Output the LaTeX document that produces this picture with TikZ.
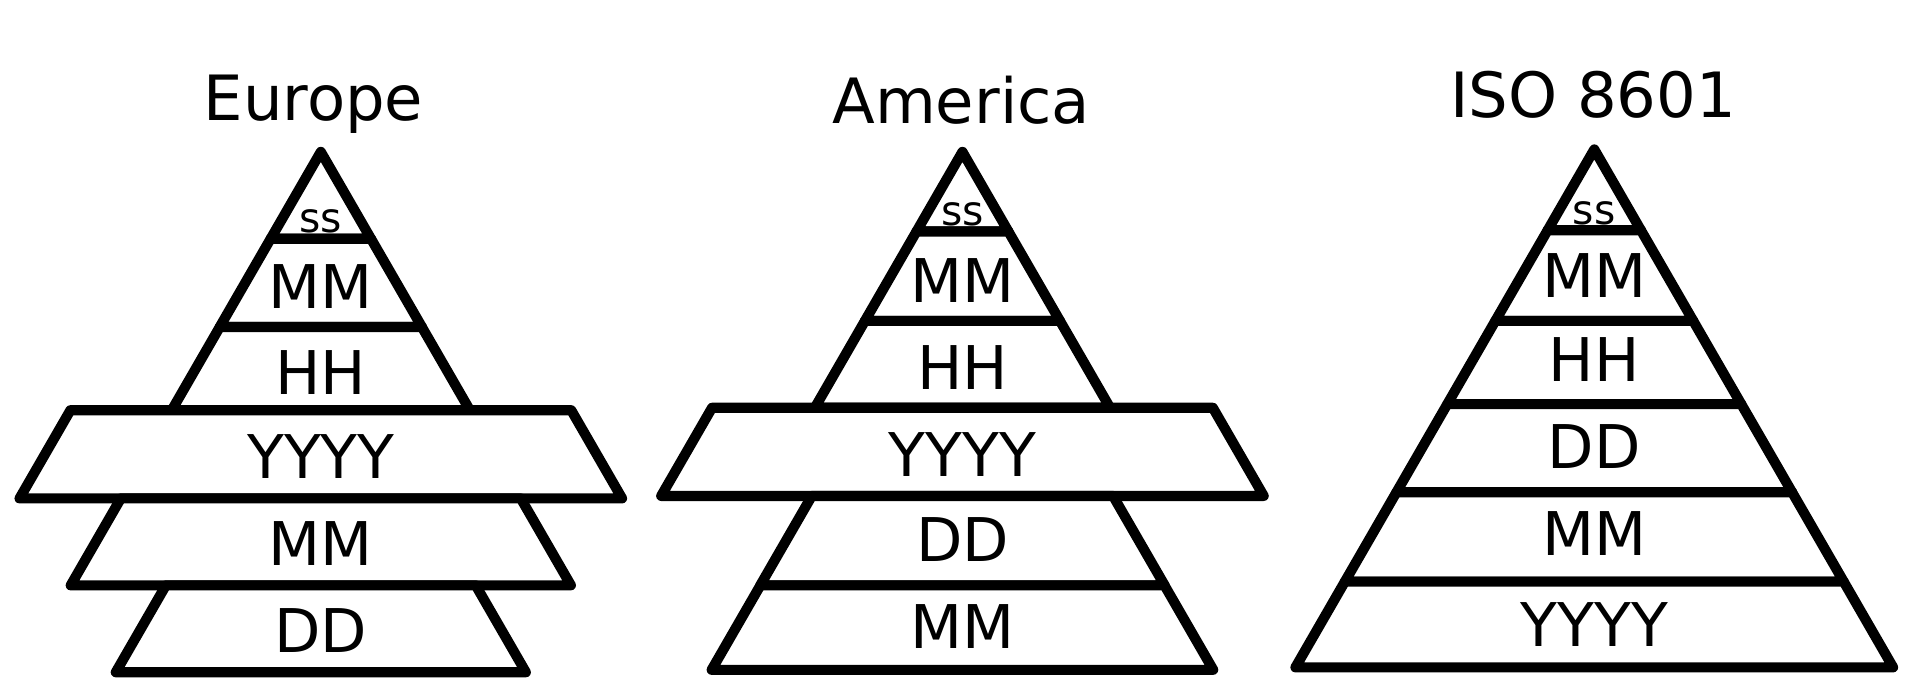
\documentclass[tikz,border=0pt]{standalone}
\usepackage{fontspec}
\setmainfont{DejaVu Sans}
\usetikzlibrary{calc}

% one layer of a pyramid: centre x, top y, bottom y, half width at the top
\newcommand{\slab}[4]{%
  \draw[layer] ({#1-#4},#2) -- ({#1+#4},#2)
    -- ({#1+#4+(#3-#2)*0.577},#3) -- ({#1-#4-(#3-#2)*0.577},#3) -- cycle;}

\begin{document}
\begin{tikzpicture}[
    x=0.01cm, y=-0.01cm,
    layer/.style={draw=black, fill=white, line width=2.35pt, line join=round},
    lbl/.style={font=\fontsize{14}{17}\selectfont, inner sep=0pt},
    sec/.style={font=\fontsize{9.5}{11}\selectfont, inner sep=0pt},
    heading/.style={font=\fontsize{14.5}{17}\selectfont, anchor=base, inner sep=0pt},
]
\useasboundingbox (0,0) rectangle (1568,556);

%---------------------------------------------------------------
% LEFT: Europe (DD.MM.YYYY HH:MM:SS)
%---------------------------------------------------------------
\node[heading] (eutitle) at (256,98) {Europe};

\slab{262}{124}{195}{0}
\slab{262}{195}{267}{41}
\slab{262}{267}{335}{82.5}
\slab{262}{335}{407}{204.5}
\slab{262}{407}{478}{163.3}
\slab{262}{478}{549}{126.5}

\node[sec] (eus) at (262,181) {ss};
\node[lbl] (eumin) at (262,234) {MM};
\node[lbl] (euh) at (262,304) {HH};
\node[lbl] (euy) at (262,373) {YYYY};
\node[lbl] (eumon) at (262,444) {MM};
\node[lbl] (eud) at (262,515) {DD};

%---------------------------------------------------------------
% MIDDLE: America (MM/DD/YYYY HH:MM:SS)
%---------------------------------------------------------------
\node[heading] (amtitle) at (785,101) {America};

\slab{786}{124}{189}{0}
\slab{786}{189}{262}{37.5}
\slab{786}{262}{333}{79.6}
\slab{786}{333}{405}{204.5}
\slab{786}{405}{478}{123}
\slab{786}{478}{547}{165}

\node[sec] (ams) at (786,175) {ss};
\node[lbl] (ammin) at (786,229) {MM};
\node[lbl] (amh) at (786,300) {HH};
\node[lbl] (amy) at (786,371) {YYYY};
\node[lbl] (amd) at (786,441) {DD};
\node[lbl] (ammon) at (786,512) {MM};

%---------------------------------------------------------------
% RIGHT: ISO 8601, one plain triangle
%---------------------------------------------------------------
\node[heading] (isotitle) at (1301,96) {ISO 8601};

\foreach \ya/\yb in {122/188, 188/262, 262/330, 330/402, 402/475, 475/545} {
    \slab{1302}{\ya}{\yb}{(\ya-122)*0.577}
}

\node[sec] (isos) at (1302,174) {ss};
\foreach \t/\yc [count=\i] in {MM/225, HH/294, DD/365, MM/436, YYYY/510} {
    \node[lbl] (iso\i) at (1302,\yc) {\t};
}

\end{tikzpicture}
\end{document}
